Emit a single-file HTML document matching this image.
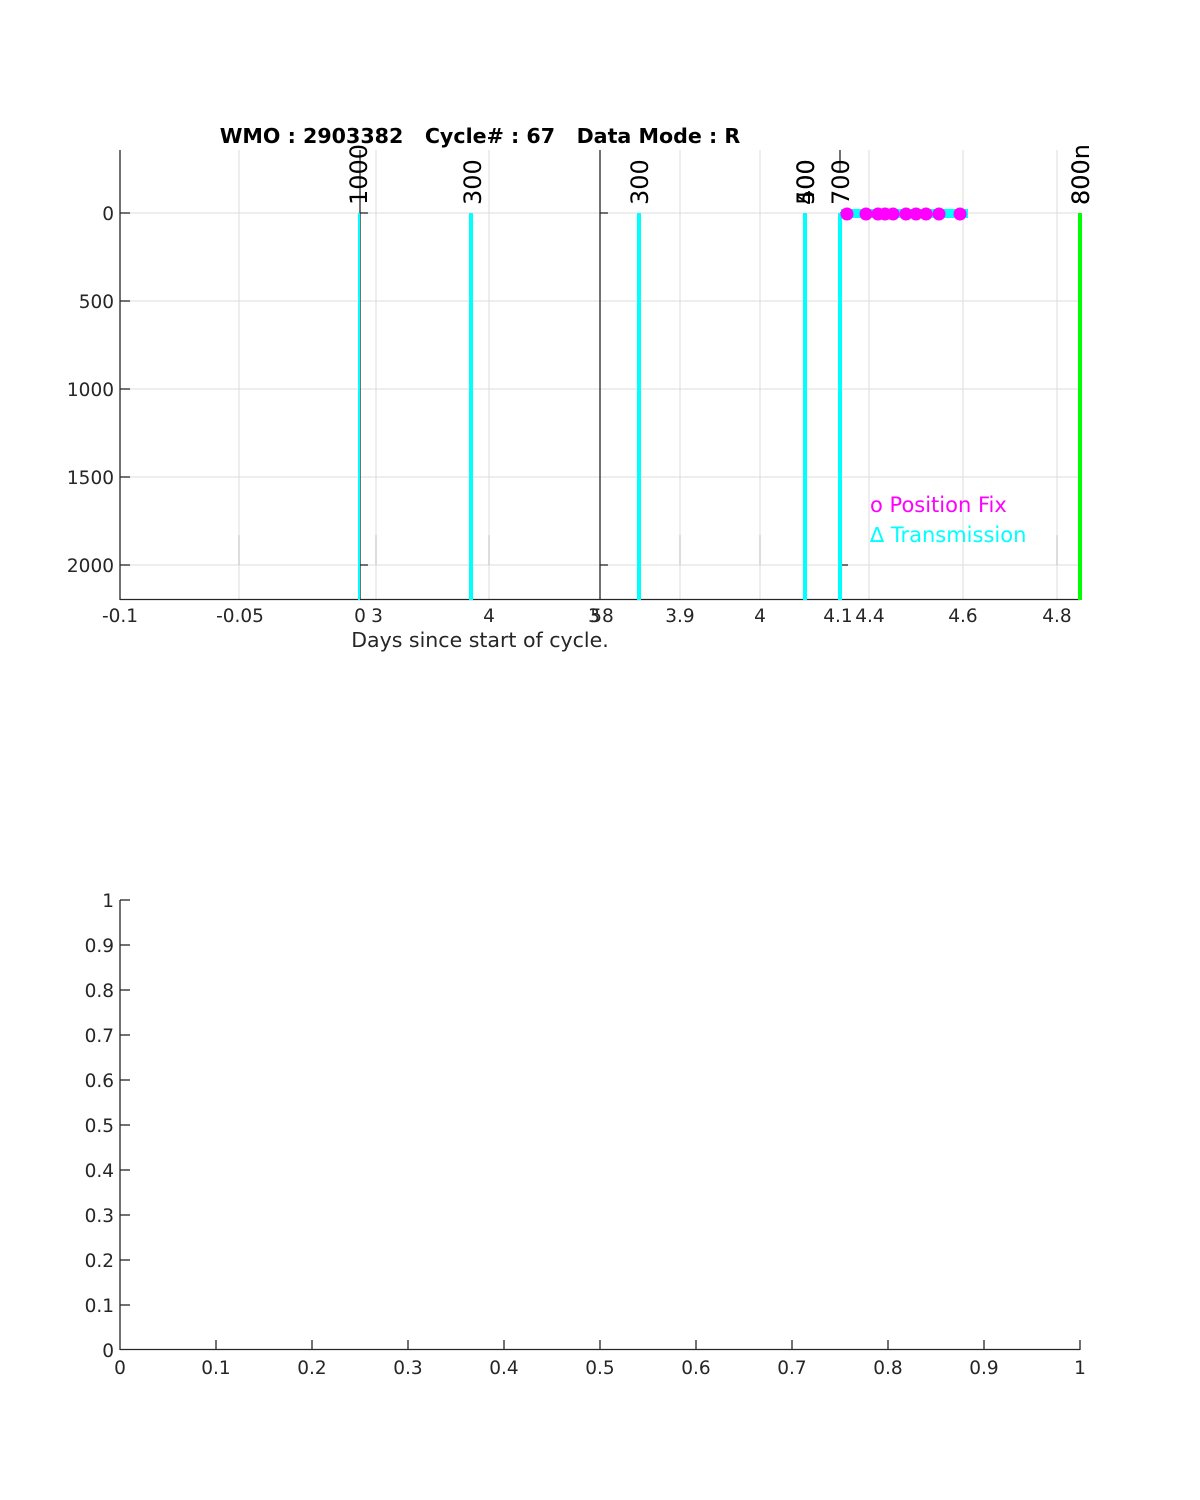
<!DOCTYPE html>
<html><head><style>body{margin:0;background:#fff}svg{display:block}</style></head><body>
<svg width="1200" height="1500" xmlns="http://www.w3.org/2000/svg" font-family="DejaVu Sans, Liberation Sans, sans-serif">
<rect width="1200" height="1500" fill="#fff"/>
<g stroke="#dcdcdc" stroke-width="1">
<line x1="120" y1="213" x2="1080" y2="213"/><line x1="120" y1="301" x2="1080" y2="301"/>
<line x1="120" y1="389" x2="1080" y2="389"/><line x1="120" y1="477" x2="1080" y2="477"/>
<line x1="120" y1="565" x2="1080" y2="565"/>
<line x1="239" y1="150" x2="239" y2="600"/><line x1="376" y1="150" x2="376" y2="600"/>
<line x1="489" y1="150" x2="489" y2="600"/><line x1="680" y1="150" x2="680" y2="600"/>
<line x1="760" y1="150" x2="760" y2="600"/><line x1="869" y1="150" x2="869" y2="600"/>
<line x1="963" y1="150" x2="963" y2="600"/><line x1="1057" y1="150" x2="1057" y2="600"/>
</g>
<g stroke="#bbb"><line x1="239" y1="535" x2="239" y2="565"/><line x1="376" y1="535" x2="376" y2="565"/><line x1="489" y1="535" x2="489" y2="565"/><line x1="680" y1="535" x2="680" y2="565"/><line x1="760" y1="535" x2="760" y2="565"/><line x1="1057" y1="535" x2="1057" y2="565"/></g>
<g stroke="#262626" stroke-width="1.3">
<line x1="120" y1="150" x2="120" y2="600"/><line x1="120" y1="599.5" x2="1080" y2="599.5"/>
<line x1="360" y1="150" x2="360" y2="600"/><line x1="600" y1="150" x2="600" y2="600"/>
<line x1="840" y1="150" x2="840" y2="172"/>
<line x1="120" y1="213" x2="130" y2="213"/><line x1="120" y1="301" x2="130" y2="301"/><line x1="120" y1="389" x2="130" y2="389"/><line x1="120" y1="477" x2="130" y2="477"/><line x1="120" y1="565" x2="130" y2="565"/>
<line x1="360" y1="213" x2="368" y2="213"/><line x1="360" y1="565" x2="368" y2="565"/>
<line x1="600" y1="213" x2="608" y2="213"/><line x1="600" y1="565" x2="608" y2="565"/>
<line x1="840" y1="213" x2="848" y2="213"/><line x1="840" y1="565" x2="848" y2="565"/>
</g>
<g fill="#262626" font-size="18.5" text-anchor="end">
<text x="114" y="220">0</text><text x="114" y="308">500</text><text x="114" y="396">1000</text><text x="114" y="484">1500</text><text x="114" y="572">2000</text>
</g>
<g fill="#262626" font-size="18.5" text-anchor="middle">
<text x="120" y="622">-0.1</text><text x="240" y="622">-0.05</text><text x="360" y="622">0</text><text x="377" y="622">3</text><text x="489" y="622">4</text><text x="594" y="622">3</text><text x="602" y="622">58</text><text x="680" y="622">3.9</text><text x="760" y="622">4</text><text x="838" y="622">4.1</text><text x="870" y="622">4.4</text><text x="963" y="622">4.6</text><text x="1057" y="622">4.8</text>
<text x="480" y="647" font-size="20.5">Days since start of cycle.</text>
</g>
<text x="480" y="143" font-size="20.6" font-weight="bold" text-anchor="middle" fill="#000" xml:space="preserve" style="white-space:pre">WMO : 2903382   Cycle# : 67   Data Mode : R</text>
<g stroke="#00ffff">
<line x1="359" y1="213" x2="359" y2="600" stroke-width="2"/>
<line x1="471" y1="213" x2="471" y2="600" stroke-width="4"/>
<line x1="639" y1="213" x2="639" y2="600" stroke-width="4"/>
<line x1="805" y1="213" x2="805" y2="600" stroke-width="4"/>
<line x1="840" y1="213" x2="840" y2="600" stroke-width="4"/>
</g>
<rect x="841" y="209" width="127" height="9" fill="#00ffff"/>
<line x1="1080" y1="213" x2="1080" y2="600" stroke="#00ff00" stroke-width="4"/>
<g fill="#ff00ff">
<circle cx="847" cy="214" r="6.5"/><circle cx="866" cy="214" r="6.5"/><circle cx="878" cy="214" r="6.5"/><circle cx="885" cy="214" r="6.5"/><circle cx="893" cy="214" r="6.5"/><circle cx="906" cy="214" r="6.5"/><circle cx="916" cy="214" r="6.5"/><circle cx="926" cy="214" r="6.5"/><circle cx="939" cy="214" r="6.5"/><circle cx="960" cy="214" r="6.5"/>
</g>
<g fill="#000" font-size="24">
<text transform="translate(367,205) rotate(-90)">1000</text>
<text transform="translate(481,205) rotate(-90)">300</text>
<text transform="translate(648,205) rotate(-90)">300</text>
<text transform="translate(814,205) rotate(-90)">400</text>
<text transform="translate(814,205) rotate(-90)">500</text>
<text transform="translate(849,205) rotate(-90)">700</text>
<text transform="translate(1089,205) rotate(-90)">800n</text>
<text transform="translate(1089,205) rotate(-90)">800</text>
</g>
<text x="870" y="512" font-size="21" fill="#ff00ff">o Position Fix</text>
<text x="870" y="542" font-size="21" fill="#00ffff">∆ Transmission</text>
<g stroke="#262626" stroke-width="1.3">
<line x1="120" y1="900" x2="120" y2="1350"/><line x1="120" y1="1349.5" x2="1080" y2="1349.5"/>
<line x1="120" y1="900" x2="130" y2="900"/><line x1="120" y1="945" x2="130" y2="945"/><line x1="120" y1="990" x2="130" y2="990"/><line x1="120" y1="1035" x2="130" y2="1035"/><line x1="120" y1="1080" x2="130" y2="1080"/><line x1="120" y1="1125" x2="130" y2="1125"/><line x1="120" y1="1170" x2="130" y2="1170"/><line x1="120" y1="1215" x2="130" y2="1215"/><line x1="120" y1="1260" x2="130" y2="1260"/><line x1="120" y1="1305" x2="130" y2="1305"/>
<line x1="216" y1="1340" x2="216" y2="1350"/><line x1="312" y1="1340" x2="312" y2="1350"/><line x1="408" y1="1340" x2="408" y2="1350"/><line x1="504" y1="1340" x2="504" y2="1350"/><line x1="600" y1="1340" x2="600" y2="1350"/><line x1="696" y1="1340" x2="696" y2="1350"/><line x1="792" y1="1340" x2="792" y2="1350"/><line x1="888" y1="1340" x2="888" y2="1350"/><line x1="984" y1="1340" x2="984" y2="1350"/><line x1="1080" y1="1340" x2="1080" y2="1350"/>
</g>
<g fill="#262626" font-size="18.5" text-anchor="end">
<text x="114" y="907">1</text><text x="114" y="952">0.9</text><text x="114" y="997">0.8</text><text x="114" y="1042">0.7</text><text x="114" y="1087">0.6</text><text x="114" y="1132">0.5</text><text x="114" y="1177">0.4</text><text x="114" y="1222">0.3</text><text x="114" y="1267">0.2</text><text x="114" y="1312">0.1</text><text x="114" y="1357">0</text>
</g>
<g fill="#262626" font-size="18.5" text-anchor="middle">
<text x="120" y="1374">0</text><text x="216" y="1374">0.1</text><text x="312" y="1374">0.2</text><text x="408" y="1374">0.3</text><text x="504" y="1374">0.4</text><text x="600" y="1374">0.5</text><text x="696" y="1374">0.6</text><text x="792" y="1374">0.7</text><text x="888" y="1374">0.8</text><text x="984" y="1374">0.9</text><text x="1080" y="1374">1</text>
</g>
</svg>
</body></html>
